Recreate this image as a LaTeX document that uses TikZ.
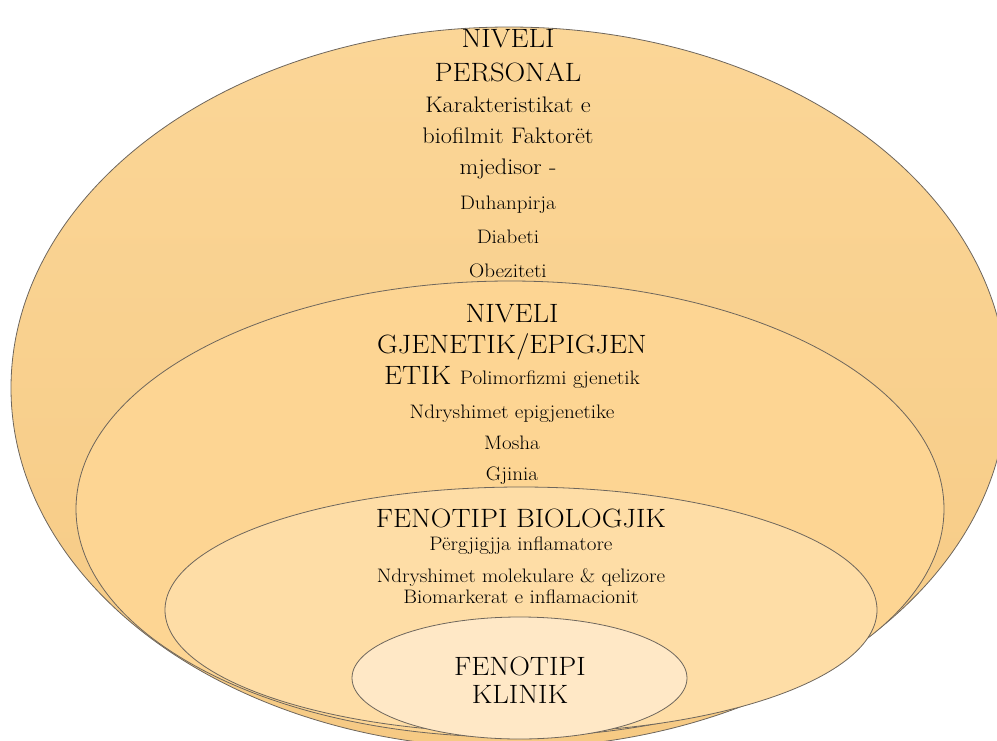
\documentclass[tikz,border=0pt]{standalone}
\usepackage{fontspec}
\newfontfamily\ringfont{Latin Modern Roman}[FakeStretch=1.08]
\usetikzlibrary{shapes.geometric}
\definecolor{OuterTop}{HTML}{FBD697}
\definecolor{OuterBot}{HTML}{F6CA84}
\definecolor{RingTwo}{HTML}{FDD593}
\definecolor{RingThree}{HTML}{FEDDA6}
\definecolor{RingFour}{HTML}{FFE8C6}
\definecolor{Edge}{HTML}{6E665C}

\tikzset{
	ring/.style={ellipse, draw=Edge, line width=0.8pt, inner sep=0pt},
	bigtxt/.style={align=center, anchor=north, inner sep=0pt, font=\ringfont\fontsize{26.5}{34}\selectfont},
	midtxt/.style={align=center, anchor=north, inner sep=0pt, font=\ringfont\fontsize{22.5}{31}\selectfont},
	smalltxt/.style={align=center, anchor=north, inner sep=0pt, font=\ringfont\fontsize{19.5}{34}\selectfont}
}

\begin{document}
\begin{tikzpicture}[x=1pt, y=-1pt]
	\useasboundingbox (0,0) rectangle (997,740);
	\clip (0,0) rectangle (997,740);
	
	% nested levels (outer one has a flatter bottom)
	\draw[draw=Edge, line width=0.8pt, top color=OuterTop, bottom color=OuterBot]
		(11,388) arc[start angle=180, end angle=360, x radius=498, y radius=361]
		arc[start angle=0, end angle=180, x radius=498, y radius=360] -- cycle;
	\coordinate (personal) at (509,388);
	\node[ring, fill=RingTwo, minimum width=868pt, minimum height=456pt] (genetic) at (510,509) {};
	\node[ring, fill=RingThree, minimum width=712pt, minimum height=246pt] (biologic) at (521,610) {};
	\node[ring, fill=RingFour, minimum width=335pt, minimum height=122pt] (clinic) at (519.5,678) {};
	
	% texts
	\node[bigtxt] (personaltitle) at (508,29) {NIVELI\\PERSONAL};
	\node[midtxt] (personalsub) at (508,96.4) {Karakteristikat e\\biofilmit Faktorët\\mjedisor -};
	\node[smalltxt] (personallist) at (508,195.5) {Duhanpirja\\Diabeti\\Obeziteti};
	
	\node[bigtxt, font=\ringfont\fontsize{26.5}{31}\selectfont] (genetictitle) at (512,304)
		{NIVELI\\GJENETIK/EPIGJEN\\ETIK {\fontsize{19.5}{20}\selectfont Polimorfizmi gjenetik}};
	\node[smalltxt, font=\ringfont\fontsize{19.5}{31}\selectfont] (geneticlist) at (512,404.5)
		{Ndryshimet epigjenetike\\Mosha\\Gjinia};
	
	\node[bigtxt] (biologictitle) at (521,509) {FENOTIPI BIOLOGJIK};
	\node[smalltxt] (biologicfirst) at (521,536.5) {Përgjigjja inflamatore};
	\node[smalltxt, font=\ringfont\fontsize{19.5}{21}\selectfont] (biologiclist) at (521,568.5)
		{Ndryshimet molekulare \& qelizore\\Biomarkerat e inflamacionit};
	
	\node[bigtxt, font=\ringfont\fontsize{26.5}{28}\selectfont] (clinictitle) at (520,657) {FENOTIPI\\KLINIK};
\end{tikzpicture}
\end{document}
